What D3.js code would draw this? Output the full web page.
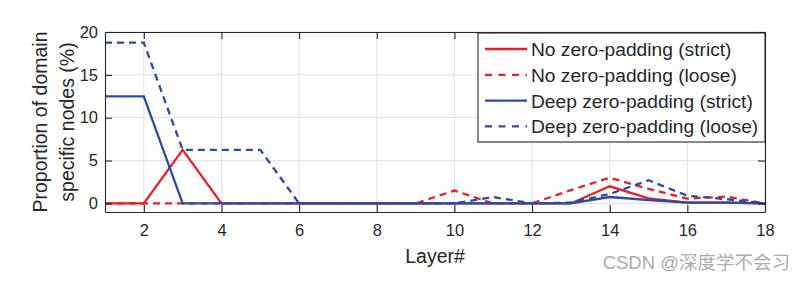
<!DOCTYPE html>
<html>
<head>
<meta charset="utf-8">
<script src="https://cdn.jsdelivr.net/npm/d3@7"></script>
<style>
  html, body { margin: 0; padding: 0; background: #fff; }
  svg { display: block; font-family: "Liberation Sans", Arial, sans-serif; }
</style>
</head>
<body>
<div id="chart"></div>
<script>
const layers = d3.range(1, 19);
const noPadStrict  = [0, 0, 6.25, 0, 0, 0, 0, 0, 0, 0, 0, 0, 0, 2.0, 0.6, 0.1, 0.1, 0];
const noPadLoose   = [0, 0, 0, 0, 0, 0, 0, 0, 0, 1.5, 0, 0, 1.55, 3.0, 1.7, 0.55, 0.8, 0];
const deepStrict   = [12.5, 12.5, 0, 0, 0, 0, 0, 0, 0, 0, 0, 0, 0, 0.75, 0.4, 0.1, 0.1, 0];
const deepLoose    = [18.75, 18.75, 6.25, 6.25, 6.25, 0, 0, 0, 0, 0, 0.75, 0, 0.1, 1.1, 2.7, 0.9, 0.5, 0];
const seriesNames  = ["No zero-padding (strict)", "No zero-padding (loose)", "Deep zero-padding (strict)", "Deep zero-padding (loose)"];
const xTicks = [2, 4, 6, 8, 10, 12, 14, 16, 18];
const yTicks = [0, 5, 10, 15, 20];

const width = 803, height = 283;
const margin = { top: 32, right: 38, bottom: 71, left: 105 };
const red = "#ed1c24", blue = "#2b4aa8", axisColor = "#262626";

const series = [
  { name: seriesNames[0], values: noPadStrict, color: red, dashed: false },
  { name: seriesNames[1], values: noPadLoose, color: red, dashed: true },
  { name: seriesNames[2], values: deepStrict, color: blue, dashed: false },
  { name: seriesNames[3], values: deepLoose, color: blue, dashed: true }
];

const svg = d3.select("#chart").append("svg")
  .attr("width", width)
  .attr("height", height);

const x = d3.scaleLinear().domain([1, 18]).range([margin.left, width - margin.right]);
const y = d3.scaleLinear().domain([-1, 20]).range([height - margin.bottom, margin.top]);

// grid
svg.append("g")
  .selectAll("line.vg")
  .data(xTicks)
  .join("line")
  .attr("x1", d => x(d)).attr("x2", d => x(d))
  .attr("y1", y(-1)).attr("y2", y(20))
  .attr("stroke", "#e0e0e0").attr("stroke-width", 1);

svg.append("g")
  .selectAll("line.hg")
  .data(yTicks)
  .join("line")
  .attr("x1", x(1)).attr("x2", x(18))
  .attr("y1", d => y(d)).attr("y2", d => y(d))
  .attr("stroke", "#e0e0e0").attr("stroke-width", 1);

// lines
const line = d3.line()
  .x((d, i) => x(layers[i]))
  .y(d => y(d));

svg.append("g")
  .selectAll("path")
  .data(series)
  .join("path")
  .attr("d", d => line(d.values))
  .attr("fill", "none")
  .attr("stroke", d => d.color)
  .attr("stroke-width", 2.3)
  .attr("stroke-dasharray", d => d.dashed ? "7,5" : null);

// axes (box with inward ticks)
const tickLen = 7;
const bottomAxis = svg.append("g")
  .attr("transform", `translate(0,${y(-1)})`)
  .call(d3.axisBottom(x).tickValues(xTicks).tickSizeInner(-tickLen).tickSizeOuter(0).tickPadding(12));
const topAxis = svg.append("g")
  .attr("transform", `translate(0,${y(20)})`)
  .call(d3.axisTop(x).tickValues(xTicks).tickSizeInner(-tickLen).tickSizeOuter(0).tickFormat(""));
const leftAxis = svg.append("g")
  .attr("transform", `translate(${x(1)},0)`)
  .call(d3.axisLeft(y).tickValues(yTicks).tickSizeInner(-tickLen).tickSizeOuter(0).tickPadding(7));
const rightAxis = svg.append("g")
  .attr("transform", `translate(${x(18)},0)`)
  .call(d3.axisRight(y).tickValues(yTicks).tickSizeInner(-tickLen).tickSizeOuter(0).tickFormat(""));

[bottomAxis, topAxis, leftAxis, rightAxis].forEach(a => {
  a.selectAll("path, line").attr("stroke", axisColor).attr("stroke-width", 1.1);
  a.selectAll("text")
    .attr("fill", axisColor)
    .style("font-size", "16.5px")
    .style("font-family", "'Liberation Sans', Arial, sans-serif");
});

// axis titles
svg.append("text")
  .attr("x", (x(1) + x(18)) / 2)
  .attr("y", 263)
  .attr("text-anchor", "middle")
  .attr("fill", axisColor)
  .style("font-size", "19.5px")
  .text("Layer#");

const yTitle = svg.append("text")
  .attr("transform", `translate(47,${(y(-1) + y(20)) / 2}) rotate(-90)`)
  .attr("text-anchor", "middle")
  .attr("fill", axisColor)
  .style("font-size", "19.5px");
yTitle.append("tspan").attr("x", 0).attr("dy", 0).text("Proportion of domain");
yTitle.append("tspan").attr("x", 0).attr("dy", 27).text("specific nodes (%)");

// legend
const legend = svg.append("g").attr("transform", `translate(478,${y(20) + 1})`);
legend.append("rect")
  .attr("width", x(18) - 478)
  .attr("height", 109)
  .attr("fill", "#fff")
  .attr("stroke", axisColor)
  .attr("stroke-width", 1.1);

const item = legend.selectAll("g.item")
  .data(series)
  .join("g")
  .attr("class", "item")
  .attr("transform", (d, i) => `translate(0,${16 + i * 25.8})`);

item.append("line")
  .attr("x1", 7).attr("x2", 49)
  .attr("stroke", d => d.color)
  .attr("stroke-width", 2.3)
  .attr("stroke-dasharray", d => d.dashed ? "7,6.5" : null);

item.append("text")
  .attr("x", 53)
  .attr("dy", "0.36em")
  .attr("fill", axisColor)
  .style("font-size", "19.2px")
  .text(d => d.name);

// watermark
svg.append("text")
  .attr("x", 790)
  .attr("y", 269)
  .attr("text-anchor", "end")
  .attr("fill", "#ababab")
  .style("font-size", "18.5px")
  .style("font-family", "'Liberation Sans', 'Noto Sans CJK SC', sans-serif")
  .text("CSDN @深度学不会习");
</script>
</body>
</html>
